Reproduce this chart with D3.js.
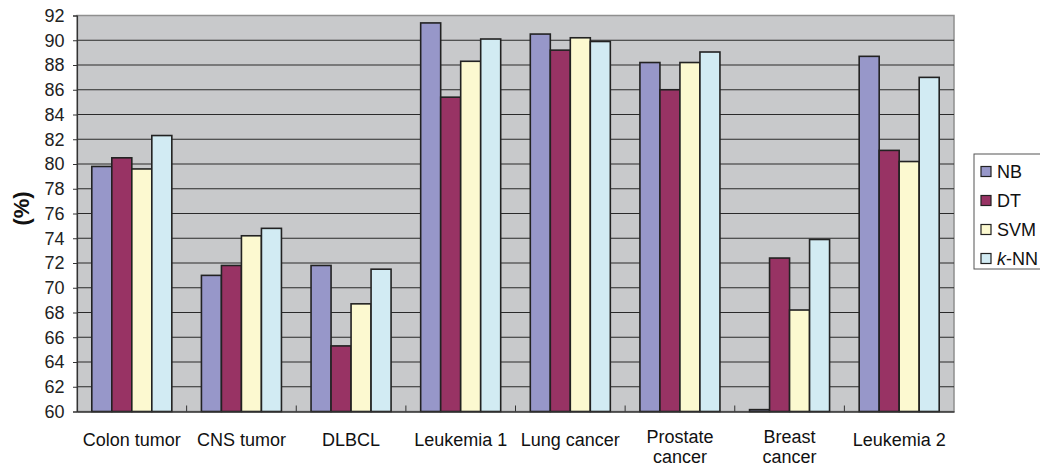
<!DOCTYPE html>
<html><head><meta charset="utf-8">
<script src="https://cdn.jsdelivr.net/npm/d3@7"></script>
<style>
body{margin:0;background:#fff;}
svg{display:block;font-family:"Liberation Sans",Arial,sans-serif;}
</style></head>
<body><svg id="c" width="1040" height="466"></svg>
<script>
const categories = [["Colon tumor"],["CNS tumor"],["DLBCL"],["Leukemia 1"],["Lung cancer"],["Prostate","cancer"],["Breast","cancer"],["Leukemia 2"]];
const seriesNames = ["NB","DT","SVM","k-NN"];
const NB  = [79.8, 71.0, 71.8, 91.4, 90.5, 88.2, 60.15, 88.7];
const DT  = [80.5, 71.8, 65.3, 85.4, 89.2, 86.0, 72.4, 81.1];
const SVM = [79.6, 74.2, 68.7, 88.3, 90.2, 88.2, 68.2, 80.2];
const KNN = [82.3, 74.8, 71.5, 90.1, 89.9, 89.05, 73.9, 87.0];
const yTicks = [60,62,64,66,68,70,72,74,76,78,80,82,84,86,88,90,92];
const colors = ["#9797c9","#983364","#fcf9d0","#d2ebf3"];

const seriesVals = [NB, DT, SVM, KNN];
const svg = d3.select("#c");
const L = 77, R = 954, T = 15.5, B = 411.5;
const FS = 18;
const catKeys = categories.map(c => c.join(" "));
const x0 = d3.scaleBand().domain(catKeys).range([L, R]).padding(0);
const x1 = d3.scaleBand().domain(seriesNames).range([0, x0.bandwidth()]).paddingInner(0).paddingOuter(0.74);
const y = d3.scaleLinear().domain([60, 92]).range([B, T]);

// plot background
svg.append("rect").attr("x", L).attr("y", T).attr("width", R - L).attr("height", B - T)
  .attr("fill", "#c8c9cb").attr("stroke", "#8f8f8f").attr("stroke-width", 1.5);

// gridlines
svg.append("g").selectAll("line").data(yTicks.filter(d => d > 60 && d < 92)).join("line")
  .attr("x1", L).attr("x2", R).attr("y1", d => y(d)).attr("y2", d => y(d))
  .attr("stroke", "#2a2a2a").attr("stroke-width", 1.2);

// y axis
const yAxis = d3.axisLeft(y).tickValues(yTicks).tickSize(4).tickPadding(8.5).tickFormat(d3.format("d"));
const ga = svg.append("g").attr("transform", `translate(${L},0)`).call(yAxis);
ga.select(".domain").attr("stroke", "#333").attr("stroke-width", 1.2);
ga.selectAll(".tick line").attr("stroke", "#333");
ga.selectAll(".tick text").attr("font-size", FS).attr("fill", "#222").attr("font-family", "Liberation Sans, Arial, sans-serif");

// bars
const groups = svg.append("g").selectAll("g").data(catKeys).join("g")
  .attr("transform", d => `translate(${x0(d)},0)`);
groups.selectAll("rect").data((d, i) => seriesNames.map((s, j) => ({s, j, v: seriesVals[j][i]}))).join("rect")
  .attr("x", d => x1(d.s)).attr("width", x1.bandwidth())
  .attr("y", d => y(d.v)).attr("height", d => y(60) - y(d.v))
  .attr("fill", d => colors[d.j]).attr("stroke", "#222").attr("stroke-width", 1.6);

// x axis
const xAxis = d3.axisBottom(x0).tickSize(0).tickFormat("");
const gx = svg.append("g").attr("transform", `translate(0,${B})`).call(xAxis);
gx.select(".domain").attr("stroke", "#333").attr("stroke-width", 1.5);
// category boundary ticks (inside)
svg.append("g").selectAll("line").data(catKeys.slice(1)).join("line")
  .attr("x1", d => x0(d)).attr("x2", d => x0(d)).attr("y1", B).attr("y2", B - 6)
  .attr("stroke", "#333").attr("stroke-width", 1);
// x labels
const xl = svg.append("g").selectAll("text").data(categories).join("text")
  .attr("x", (d, i) => x0(catKeys[i]) + x0.bandwidth() / 2)
  .attr("y", d => d.length > 1 ? 442.5 : 445.5).attr("text-anchor", "middle").attr("font-size", FS).attr("fill", "#111");
xl.selectAll("tspan").data(d => d).join("tspan")
  .attr("x", function(){ return this.parentNode.getAttribute("x"); })
  .attr("dy", (d, i) => i === 0 ? 0 : 20.5).text(d => d);

// y title
svg.append("text").attr("transform", "translate(29,208.5) rotate(-90)")
  .attr("text-anchor", "middle").attr("font-size", 22).attr("font-weight", "bold").attr("fill", "#111").text("(%)");

// legend
const lg = svg.append("g");
lg.append("rect").attr("x", 974).attr("y", 154).attr("width", 90).attr("height", 115)
  .attr("fill", "#fff").attr("stroke", "#555").attr("stroke-width", 1);
const ly = d3.scalePoint().domain(seriesNames).range([171.5, 258.5]);
lg.selectAll("rect.sw").data(seriesNames).join("rect").attr("class", "sw")
  .attr("x", 981).attr("y", d => ly(d) - 5).attr("width", 10).attr("height", 10)
  .attr("fill", (d, i) => colors[i]).attr("stroke", "#222").attr("stroke-width", 1.2);
const lt = lg.selectAll("text").data(seriesNames).join("text")
  .attr("x", 997).attr("y", d => ly(d) + 6.5).attr("font-size", FS).attr("fill", "#111");
lt.each(function(d){
  const t = d3.select(this);
  if (d === "k-NN") { t.append("tspan").attr("font-style", "italic").text("k"); t.append("tspan").text("-NN"); }
  else t.text(d);
});
</script></body></html>
